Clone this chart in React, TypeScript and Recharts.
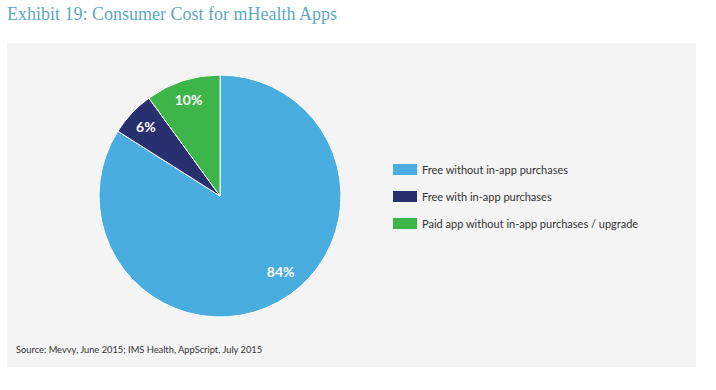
import { PieChart, Pie, Cell } from "recharts";

const categories = [
  "Free without in-app purchases",
  "Free with in-app purchases",
  "Paid app without in-app purchases / upgrade",
];
const shares = [84, 6, 10];
const colors = ["#4aade0", "#29306f", "#3db549"];

const data = categories.map((name, i) => ({ name, value: shares[i] }));

const RADIAN = Math.PI / 180;

function renderLabel(props: any) {
  const { cx, cy, midAngle, outerRadius, index, value } = props;
  // big slice label sits a bit closer to the lower-right
  const angle = index === 0 ? midAngle + 10 : midAngle;
  const r = outerRadius * (index === 0 ? 0.8 : 0.84);
  const x = cx + r * Math.cos(-angle * RADIAN);
  const y = cy + r * Math.sin(-angle * RADIAN);
  return (
    <text
      x={x}
      y={y}
      fill="#fff"
      textAnchor="middle"
      dominantBaseline="central"
      style={{ fontFamily: "Lato, sans-serif", fontWeight: 700, fontSize: 14 }}
    >
      {value}%
    </text>
  );
}

function LegendBox() {
  return (
    <div style={{ fontFamily: "Lato, sans-serif", fontSize: 11, color: "#333" }}>
      {data.map((d, i) => (
        <div key={d.name} style={{ display: "flex", alignItems: "center", height: 27 }}>
          <span
            style={{
              display: "inline-block",
              width: 24,
              height: 11,
              background: colors[i],
              marginRight: 5,
            }}
          />
          {d.name}
        </div>
      ))}
    </div>
  );
}

export default function App() {
  return (
    <div
      style={{
        position: "fixed",
        left: 0,
        top: 0,
        width: 716,
        height: 390,
        background: "#fff",
        overflow: "hidden",
      }}
    >
      <div
        style={{
          position: "absolute",
          left: 7,
          top: 4,
          fontFamily: "'Liberation Serif', serif",
          fontSize: 18,
          color: "#5ea9bf",
        }}
      >
        Exhibit 19: Consumer Cost for mHealth Apps
      </div>
      <div
        style={{
          position: "absolute",
          left: 7,
          top: 43,
          width: 689,
          height: 324,
          background: "#f4f4f4",
        }}
      />
      <div style={{ position: "absolute", left: 0, top: 0 }}>
        <PieChart width={716} height={390} margin={{ top: 0, right: 0, bottom: 0, left: 0 }}>
          <Pie
            data={data}
            dataKey="value"
            nameKey="name"
            cx={220}
            cy={196}
            outerRadius={121}
            startAngle={90}
            endAngle={-270}
            stroke="#fff"
            strokeWidth={1}
            label={renderLabel}
            labelLine={false}
            isAnimationActive={false}
          >
            {data.map((d, i) => (
              <Cell key={d.name} fill={colors[i]} />
            ))}
          </Pie>
        </PieChart>
      </div>
      <div style={{ position: "absolute", left: 393, top: 156 }}>
        <LegendBox />
      </div>
      <div
        style={{
          position: "absolute",
          left: 16,
          top: 344,
          fontFamily: "Lato, sans-serif",
          fontSize: 9.3,
          color: "#333",
        }}
      >
        Source: Mevvy, June 2015; IMS Health, AppScript, July 2015
      </div>
    </div>
  );
}
